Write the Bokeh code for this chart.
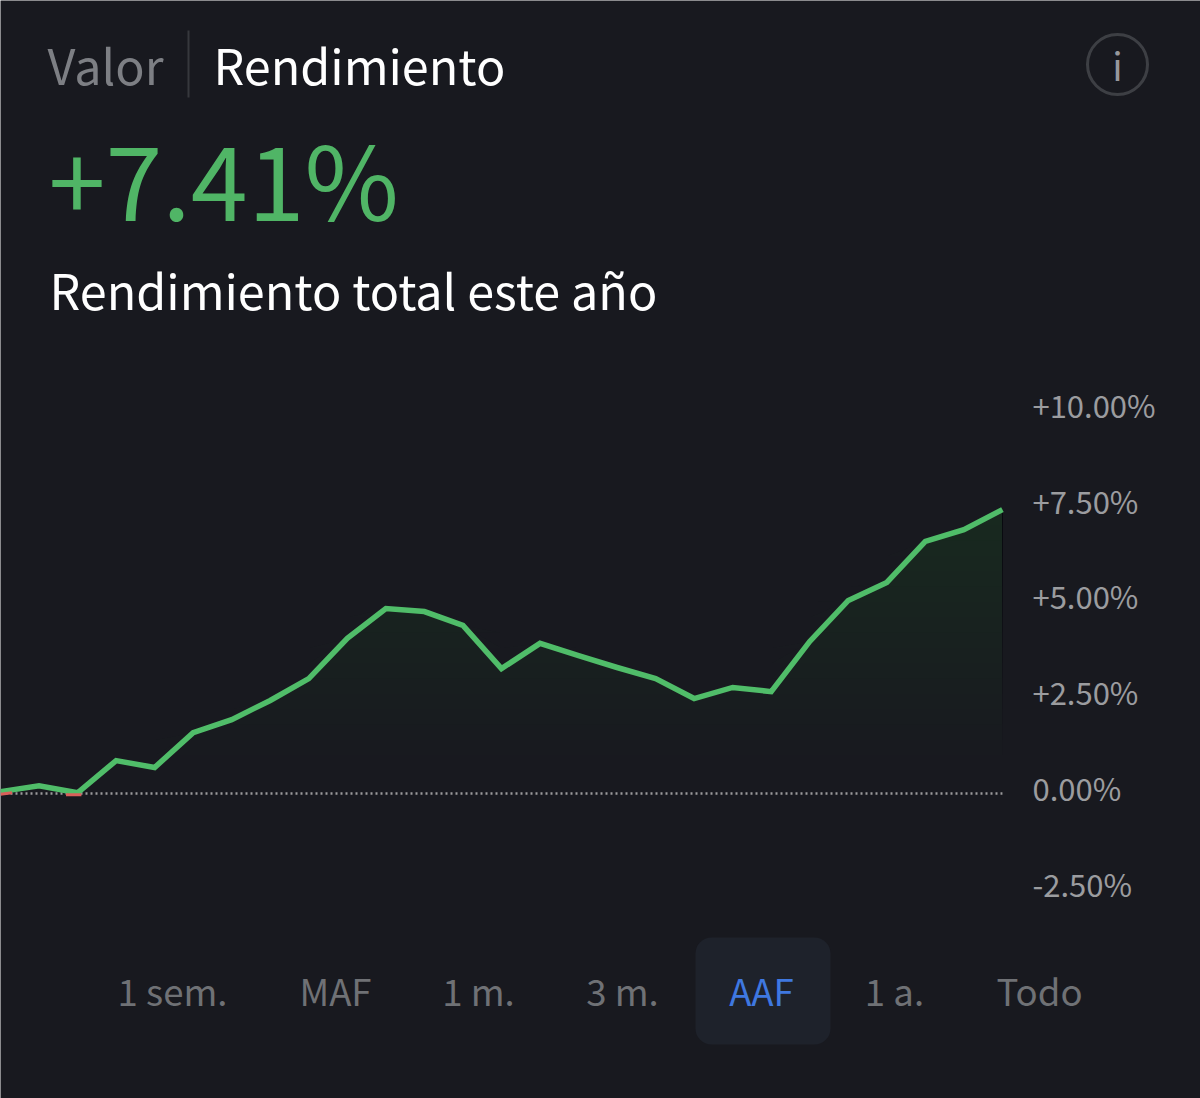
from bokeh.plotting import figure
from bokeh.models import Range1d, LinearAxis, FixedTicker, Label, BoxAnnotation
from bokeh.embed import file_html
from bokeh.resources import INLINE

FONT = "Noto Sans CJK JP"
BG = "#18191f"
H = 1098

# --- data ---
points = list(range(27))
returns = [0.05, 0.20, 0.02, 0.86, 0.68, 1.59, 1.93, 2.43, 3.00, 4.05, 4.83,
           4.75, 4.39, 3.26, 3.92, 3.60, 3.29, 3.00, 2.48, 2.77, 2.66, 3.97,
           5.04, 5.51, 6.58, 6.89, 7.41]
red_x_a = [0.0, 0.30]
red_y_a = [-0.02, 0.02]
red_x_b = [1.70, 2.10]
red_y_b = [-0.03, -0.03]
zero_x = [0, 26]
zero_y = [0, 0]
tick_values = [-2.5, 0, 2.5, 5, 7.5, 10]
tick_labels = ["-2.50%", "0.00%", "+2.50%", "+5.00%", "+7.50%", "+10.00%"]
tabs = ["1 sem.", "MAF", "1 m.", "3 m.", "AAF", "1 a.", "Todo"]
tab_centers = [172, 335, 478, 622, 761, 894, 1039]
fade_levels = [1.0, 1.4, 1.8, 2.2, 2.6, 3.0, 3.4, 3.8, 4.2, 4.6, 5.0, 5.4, 5.8, 6.2, 6.6, 7.0]

p = figure(width=1200, height=H, output_backend="svg", toolbar_location=None,
           x_range=Range1d(0, 31.14), y_range=Range1d(-7.96, 20.70),
           min_border=0, background_fill_color=BG, border_fill_color=BG,
           outline_line_color=None, x_axis_type=None, y_axis_type=None)
p.grid.visible = False
p.styles = {"position": "absolute", "left": "0", "top": "0"}
p.extra_y_ranges = {"labels": Range1d(-7.96 - 0.157, 20.70 - 0.157)}

# area fading downward
for lvl in fade_levels:
    p.varea(x=points, y1=[lvl] * len(points), y2=[max(v, lvl) for v in returns],
            fill_color="#50b866", fill_alpha=0.011)

p.line(zero_x, zero_y, line_color="#9a9a9c", line_width=2.4, line_dash=[2, 3])
p.line(points, returns, line_color="#50bd69", line_width=5.5, line_join="miter")
p.line(red_x_a, red_y_a, line_color="#d9605a", line_width=3)
p.line(red_x_b, red_y_b, line_color="#d9605a", line_width=3)

axis = LinearAxis(fixed_location=26, y_range_name="labels", ticker=FixedTicker(ticks=tick_values),
                  major_label_overrides=dict(zip(tick_values, tick_labels)),
                  axis_line_color=None, major_tick_line_color=None, minor_tick_line_color=None,
                  major_label_standoff=24, major_label_text_color="#9b9c9f",
                  major_label_text_font=FONT, major_label_text_font_size="31px")
p.add_layout(axis, "right")

def text(s, x, y, size, color, align="left"):
    p.add_layout(Label(x=x, y=H - y, x_units="screen", y_units="screen", text=s, text_font=FONT,
                       text_font_size=size, text_color=color, text_align=align,
                       text_baseline="middle"))

def box(left, right, top, bottom, **kw):
    p.add_layout(BoxAnnotation(left=left, right=right, top=H - top, bottom=H - bottom,
                               left_units="screen", right_units="screen",
                               top_units="screen", bottom_units="screen", **kw))

text("Valor", 47, 63, "48.5px", "#7d7f84")
text("Rendimiento", 213, 63, "48.5px", "#ffffff")
text("+7.41%", 48, 176, "102.5px", "#50b566")
text("Rendimiento total este año", 49, 288, "48.5px", "#ffffff")

box(187, 189, 30, 97, fill_color="#36383d", fill_alpha=1, line_color=None)
box(1087, 1147, 34, 94, fill_alpha=0, line_color="#96989c", line_width=3, border_radius=30)
text("i", 1117, 64, "38px", "#96989c", "center")

box(695, 830, 937, 1044, fill_color="#1e222b", fill_alpha=1, line_color=None, border_radius=16)
for t, cx in zip(tabs, tab_centers):
    text(t, cx, 990, "36.6px", "#3f78e0" if t == "AAF" else "#6f7175", "center")

open("out.html", "w").write(file_html(p, INLINE))
